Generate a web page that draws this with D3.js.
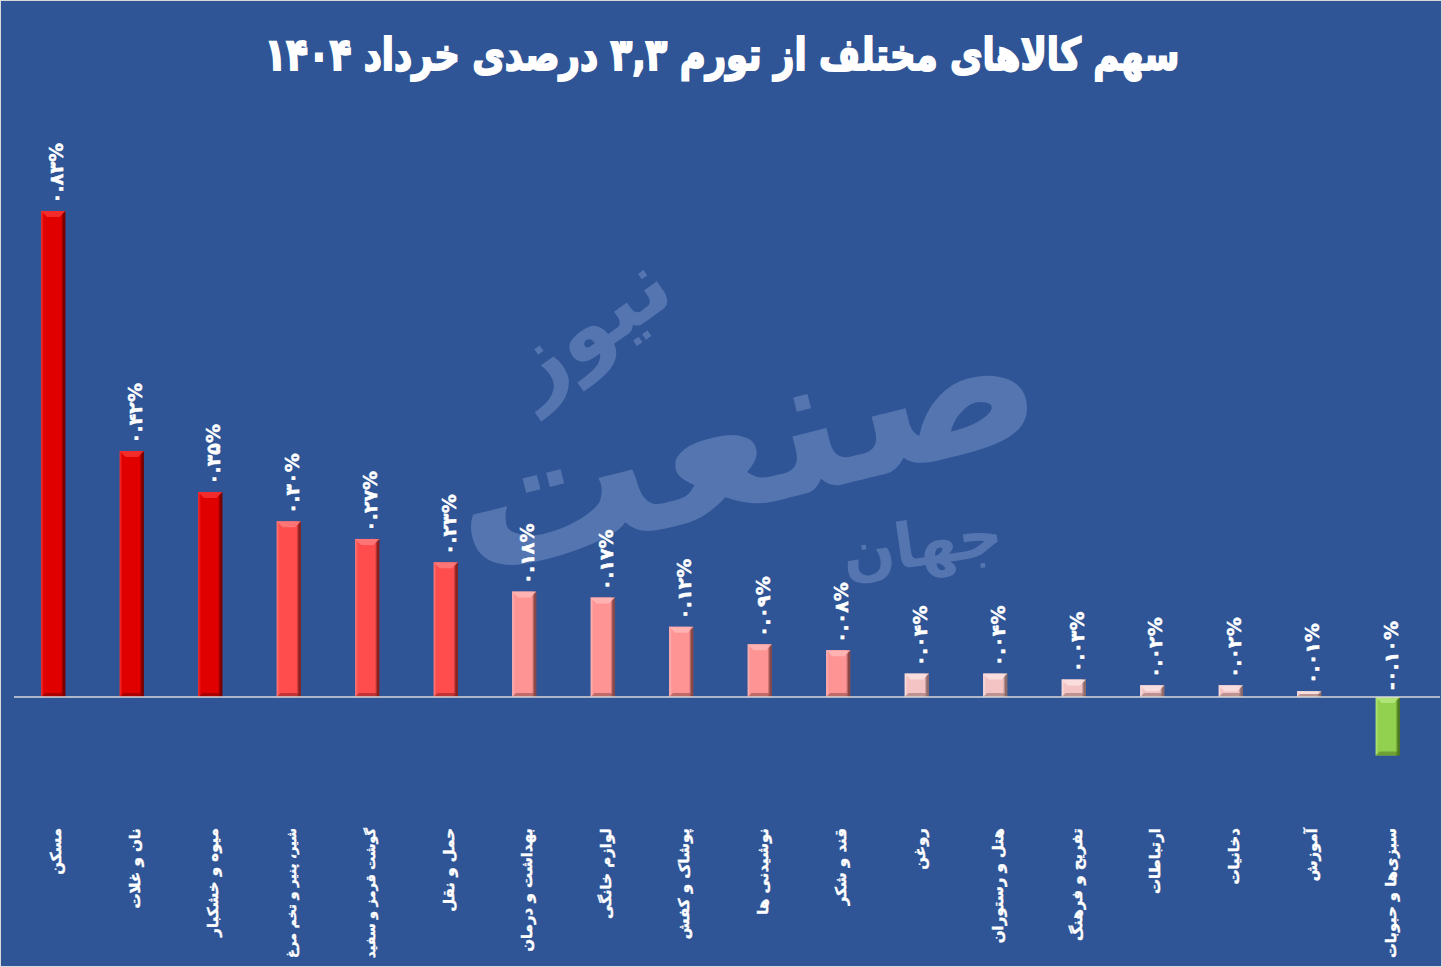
<!DOCTYPE html>
<html><head><meta charset="utf-8">
<script src="https://cdn.jsdelivr.net/npm/d3@7/dist/d3.min.js"></script>
<style>
html,body{margin:0;padding:0;background:#2F5597;}
svg{display:block;}
</style></head>
<body>
<svg id="chart" width="1442" height="967"></svg>
<script>
const titleText = "سهم کالاهای مختلف از تورم ۳,۳ درصدی خرداد ۱۴۰۴";
const categories = ["مسکن","نان و غلات","میوه و خشکبار","شیر، پنیر و تخم مرغ","گوشت قرمز و سفید","حمل و نقل","بهداشت و درمان","لوازم خانگی","پوشاک و کفش","نوشیدنی ها","قند و شکر","روغن","هتل و رستوران","تفریح و فرهنگ","ارتباطات","دخانیات","آموزش","سبزی‌ها و حبوبات"];
const values = [0.83,0.42,0.35,0.30,0.27,0.23,0.18,0.17,0.12,0.09,0.08,0.04,0.04,0.03,0.02,0.02,0.01,-0.10];
const valueLabels = ["۰.۸۳%","۰.۴۲%","۰.۳۵%","۰.۳۰%","۰.۲۷%","۰.۲۳%","۰.۱۸%","۰.۱۷%","۰.۱۲%","۰.۰۹%","۰.۰۸%","۰.۰۴%","۰.۰۴%","۰.۰۳%","۰.۰۲%","۰.۰۲%","۰.۰۱%","-۰.۱۰%"];
const colorGroups = ["dark","dark","dark","red","red","red","pink","pink","pink","pink","pink","light","light","light","light","light","light","green"];
const palette = {
  dark:  {base:"#E00000", light:"#F53030", dark:"#7A0000"},
  red:   {base:"#FF4D4D", light:"#FF7A7A", dark:"#8A2020"},
  pink:  {base:"#FF9494", light:"#FFB5B5", dark:"#8A4848"},
  light: {base:"#F4C4C4", light:"#FBE0E0", dark:"#8E6A6A"},
  green: {base:"#92D050", light:"#B4E67A", dark:"#4E7A20"}
};

const W = 1442, H = 967;
const FONT = "'DejaVu Sans', sans-serif";
const svg = d3.select("#chart");
const defs = svg.append("defs");

// background + border
svg.append("rect").attr("x",0.5).attr("y",0.5).attr("width",W-1).attr("height",H-1)
  .attr("fill","#2F5597").attr("stroke","#D9D9D9").attr("stroke-width",1);

// watermark (faint logo text)
const wm = svg.append("g").attr("fill","#A9BFE6").attr("opacity",0.3)
  .style("font-family",FONT).style("font-weight","bold");
wm.append("text").attr("transform","translate(760,505) rotate(-14)").attr("text-anchor","middle")
  .attr("font-size",200).attr("direction","rtl").text("صنعت");
wm.append("text").attr("transform","translate(605,350) rotate(-35)").attr("text-anchor","middle")
  .attr("font-size",90).attr("direction","rtl").text("نیوز");
wm.append("text").attr("transform","translate(925,565) rotate(-8)").attr("text-anchor","middle")
  .attr("font-size",62).attr("direction","rtl").text("جهان");

// scales
const x = d3.scaleBand().domain(categories).range([14, 1427]).padding(0);
const y = d3.scaleLinear().domain([-0.2, 0.9]).range([697 + 0.2*585.5, 697 - 0.9*585.5]);
const barW = x.bandwidth() * 0.31;

// gradients
Object.entries(palette).forEach(([k,c]) => {
  const g = defs.append("linearGradient").attr("id","g-"+k).attr("x1","0").attr("x2","1").attr("y1","0").attr("y2","0");
  g.append("stop").attr("offset","0").attr("stop-color",c.light);
  g.append("stop").attr("offset","0.12").attr("stop-color",c.base);
  g.append("stop").attr("offset","0.82").attr("stop-color",c.base);
  g.append("stop").attr("offset","0.92").attr("stop-color",c.dark);
  g.append("stop").attr("offset","1").attr("stop-color",c.dark);
});

const data = categories.map((c,i)=>({cat:c, v:values[i], lab:valueLabels[i], grp:colorGroups[i]}));

const bars = svg.append("g").selectAll("g").data(data).join("g");
bars.append("rect")
  .attr("x", d => x(d.cat) + x.bandwidth()/2 - barW/2)
  .attr("y", d => Math.min(y(d.v), y(0)))
  .attr("width", barW)
  .attr("height", d => Math.abs(y(d.v) - y(0)))
  .attr("fill", d => "url(#g-"+d.grp+")");
bars.append("path")
  .attr("d", d => {
    const x0 = x(d.cat) + x.bandwidth()/2 - barW/2, x1 = x0 + barW;
    const top = Math.min(y(d.v), y(0)), h = Math.abs(y(d.v)-y(0));
    const b = Math.min(6, h/2);
    return `M${x0},${top} L${x1},${top} L${x1-b},${top+b} L${x0+b},${top+b} Z`;
  })
  .attr("fill", d => palette[d.grp].light).attr("opacity",0.9);
bars.append("path")
  .attr("d", d => {
    const x0 = x(d.cat) + x.bandwidth()/2 - barW/2, x1 = x0 + barW;
    const bot = Math.max(y(d.v), y(0)), h = Math.abs(y(d.v)-y(0));
    const b = Math.min(4, h/2);
    return `M${x0},${bot} L${x1},${bot} L${x1-b},${bot-b} L${x0+b},${bot-b} Z`;
  })
  .attr("fill", d => palette[d.grp].dark).attr("opacity",0.55);

// zero axis line
svg.append("line").attr("x1",14).attr("x2",1440).attr("y1",y(0)).attr("y2",y(0))
  .attr("stroke","#D9D9D9").attr("stroke-width",1.5);

// value labels (rotated -90)
svg.append("g").selectAll("text").data(data).join("text")
  .attr("transform", d => `translate(${x(d.cat)+x.bandwidth()/2+3},${Math.min(y(d.v), y(0)) - 7}) rotate(-90)`)
  .attr("text-anchor","start").attr("dominant-baseline","central")
  .attr("fill","#fff").attr("stroke","#fff").attr("stroke-width",0.5)
  .style("font-family",FONT).style("font-weight","bold")
  .attr("font-size",19).text(d => d.lab);

// category labels (rotated -90, start at top)
const cl = svg.append("g").selectAll("text").data(data).join("text")
  .attr("transform", d => `translate(${x(d.cat)+x.bandwidth()/2+3},828) rotate(-90)`)
  .attr("direction","rtl").attr("text-anchor","start").attr("dominant-baseline","central")
  .attr("fill","#fff").attr("stroke","#fff").attr("stroke-width",0.4)
  .style("font-family",FONT).style("font-weight","bold")
  .attr("font-size",15).text(d => d.cat);
cl.each(function(){
  const len = this.getComputedTextLength();
  if (len > 130) d3.select(this).attr("font-size", 15 * 130 / len);
});

// title
const t = svg.append("text").attr("x",722).attr("y",70).attr("text-anchor","middle")
  .attr("direction","rtl").attr("fill","#fff").attr("stroke","#fff").attr("stroke-width",1.6)
  .style("font-family",FONT).style("font-weight","bold")
  .attr("font-size",40).text(titleText);
const tw = t.node().getComputedTextLength();
t.attr("font-size", 40 * 915 / tw)
 .attr("transform","translate(0,70) scale(1,1.25) translate(0,-70)");
</script>
</body></html>
